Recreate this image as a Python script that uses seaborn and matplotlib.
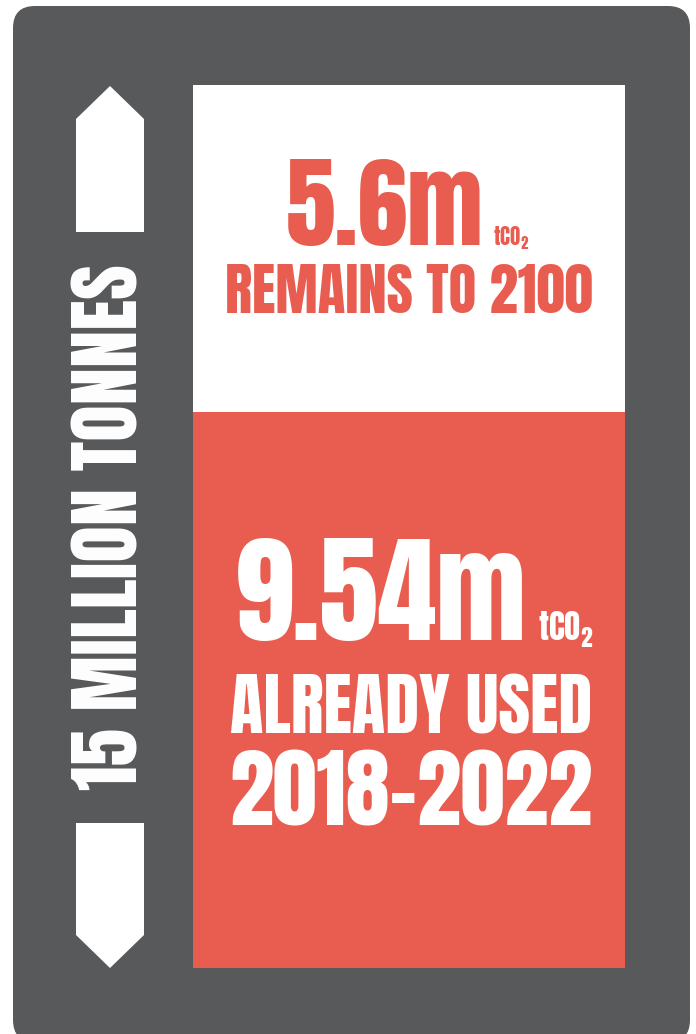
import matplotlib
matplotlib.use('Agg')
import matplotlib.pyplot as plt
from matplotlib.patches import FancyBboxPatch, Polygon
import pandas as pd
import seaborn as sns

# carbon budget, million tonnes CO2
segments = ['Already used 2018-2022', 'Remains to 2100']
values = [9.54, 5.6]
total_label = '15 MILLION TONNES'

GREY = '#58595b'
RED = '#e95d50'
W, H = 696, 1034

sns.set_theme(style='white')
plt.rcParams['font.family'] = ['Anton', 'DejaVu Sans']
plt.rcParams['mathtext.fontset'] = 'custom'
plt.rcParams['mathtext.rm'] = 'Anton'
plt.rcParams['mathtext.it'] = 'Anton'
plt.rcParams['mathtext.bf'] = 'Anton'

fig = plt.figure(figsize=(W / 100, H / 100), dpi=100, facecolor='white')

# background panel in pixel coordinates
bg = fig.add_axes([0, 0, 1, 1])
bg.set_xlim(0, W)
bg.set_ylim(H, 0)
bg.axis('off')
bg.add_patch(FancyBboxPatch((13, 6), 677, 1036, boxstyle='round,pad=0,rounding_size=22',
                            fc=GREY, ec='none'))
# double arrow on the left
bg.add_patch(Polygon([(76, 119), (110, 86), (144, 119), (144, 232), (76, 232)], fc='white', ec='none'))
bg.add_patch(Polygon([(76, 823), (144, 823), (144, 935), (110, 968), (76, 935)], fc='white', ec='none'))

# stacked bar: total in white, used part in red on top
df = pd.DataFrame({'group': ['budget'], 'used': [values[0]], 'total': [sum(values)]})
ax = fig.add_axes([193 / W, (H - 968) / H, 432 / W, 883 / H])
sns.barplot(data=df, x='group', y='total', color='white', saturation=1, width=1.0, ax=ax)
sns.barplot(data=df, x='group', y='used', color=RED, saturation=1, width=1.0, ax=ax)
for p in ax.patches:
    p.set_edgecolor('none')
ax.set_xlim(-0.5, 0.5)
ax.set_ylim(0, sum(values))
ax.axis('off')

renderer = fig.canvas.get_renderer()


def put(x, y, s, width=None, height=None, **kw):
    # size text so it spans the given pixel width (or height)
    t = fig.text(x, y, s, transform=bg.transData, fontsize=40, **kw)
    bb = t.get_window_extent(renderer)
    if width:
        t.set_fontsize(40 * width / bb.width)
    elif height:
        t.set_fontsize(40 * height / bb.height)
    return t


put(286, 245, f'{values[1]}m', width=198, color=RED, ha='left', va='baseline')
put(493, 245, 'tCO$_2$', width=35, color=RED, ha='left', va='baseline')
put(409, 313, 'REMAINS TO 2100', width=368, color=RED, ha='center', va='baseline')

put(235, 640, f'{values[0]}m', width=292, color='white', ha='left', va='baseline')
put(538, 640, 'tCO$_2$', width=55, color='white', ha='left', va='baseline')
put(411, 733, 'ALREADY USED', width=362, color='white', ha='center', va='baseline')
put(411, 826, '2018-2022', width=362, color='white', ha='center', va='baseline')

put(110, 527, total_label, height=525, color='white', rotation=90, ha='center', va='center')

fig.savefig('out.png', dpi=100, facecolor='white')
